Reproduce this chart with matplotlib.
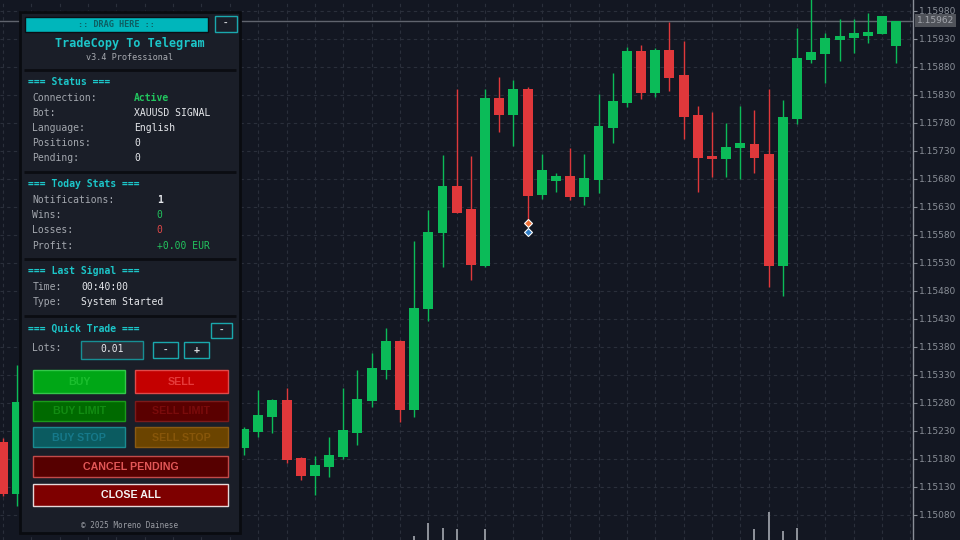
import numpy as np
import matplotlib
matplotlib.use("Agg")
import matplotlib.pyplot as plt
from matplotlib.patches import Rectangle
import matplotlib.transforms as mtransforms

# ---------------- data ----------------
idx = [-17, -16] + list(range(0, 47))
opens = [1.15209, 1.15117,
         1.15200, 1.15228, 1.15255, 1.15284, 1.15181, 1.15149, 1.15165, 1.15184, 1.15226, 1.15284,
         1.15338, 1.15390, 1.15267, 1.15447, 1.15583, 1.15666, 1.15625, 1.15525, 1.15824, 1.15794,
         1.15840, 1.15651, 1.15677, 1.15685, 1.15648, 1.15678, 1.15771, 1.15816, 1.15907, 1.15834,
         1.15909, 1.15864, 1.15794, 1.15721, 1.15715, 1.15735, 1.15742, 1.15724, 1.15524, 1.15787,
         1.15893, 1.15903, 1.15928, 1.15931, 1.15936, 1.15938, 1.15917]
closes = [1.15117, 1.15280,
          1.15233, 1.15258, 1.15284, 1.15178, 1.15149, 1.15169, 1.15187, 1.15230, 1.15287, 1.15341,
          1.15390, 1.15268, 1.15449, 1.15585, 1.15667, 1.15620, 1.15526, 1.15824, 1.15794, 1.15840,
          1.15650, 1.15696, 1.15685, 1.15647, 1.15680, 1.15774, 1.15819, 1.15907, 1.15834, 1.15909,
          1.15861, 1.15791, 1.15717, 1.15715, 1.15737, 1.15743, 1.15718, 1.15524, 1.15790, 1.15896,
          1.15906, 1.15931, 1.15935, 1.15939, 1.15942, 1.15971, 1.15962]
highs = [1.15217, 1.15347,
         1.15237, 1.15303, 1.15287, 1.15306, 1.15183, 1.15184, 1.15219, 1.15306, 1.15338, 1.15368,
         1.15413, 1.15392, 1.15568, 1.15624, 1.15722, 1.15840, 1.15721, 1.15840, 1.15862, 1.15856,
         1.15843, 1.15724, 1.15691, 1.15734, 1.15724, 1.15831, 1.15869, 1.15916, 1.15919, 1.15913,
         1.15960, 1.15925, 1.15810, 1.15799, 1.15780, 1.15810, 1.15803, 1.15841, 1.15821, 1.15949,
         1.16010, 1.15941, 1.15966, 1.15966, 1.15976, 1.15971, 1.15962]
lows = [1.15113, 1.15096,
        1.15187, 1.15219, 1.15226, 1.15172, 1.15142, 1.15115, 1.15148, 1.15179, 1.15205, 1.15273,
        1.15322, 1.15246, 1.15255, 1.15425, 1.15522, 1.15619, 1.15499, 1.15523, 1.15764, 1.15739,
        1.15603, 1.15643, 1.15657, 1.15642, 1.15633, 1.15655, 1.15744, 1.15808, 1.15822, 1.15825,
        1.15837, 1.15750, 1.15657, 1.15683, 1.15683, 1.15679, 1.15690, 1.15486, 1.15471, 1.15778,
        1.15887, 1.15850, 1.15891, 1.15905, 1.15923, 1.15938, 1.15886]

vol_idx = [12, 13, 14, 15, 17, 36, 37, 38, 39]
vol_val = [40, 173, 123, 110, 110, 110, 283, 90, 117]

last_price = 1.15962
trade_idx = 20
trade_sell = 1.15600
trade_buy = 1.15584

yticks = [round(1.15080 + 0.0005 * i, 5) for i in range(19)]

status_rows = [("Connection:", "Active"), ("Bot:", "XAUUSD SIGNAL"), ("Language:", "English"),
               ("Positions:", "0"), ("Pending:", "0")]
stats_rows = [("Notifications:", "1"), ("Wins:", "0"), ("Losses:", "0"), ("Profit:", "+0.00 EUR")]
signal_rows = [("Time:", "00:40:00"), ("Type:", "System Started")]

# ---------------- style ----------------
BG = "#131722"
GREEN = "#0bbb58"
RED = "#e0383b"
GRID = "#2a2f3b"
AXC = "#8a8f98"

fig = plt.figure(figsize=(9.6, 5.4), dpi=100, facecolor=BG)
ax = fig.add_axes([0, 0, 913 / 960, 1], facecolor=BG)

x = np.array(idx, dtype=float)
o = np.array(opens); c = np.array(closes); h = np.array(highs); l = np.array(lows)
up = c >= o
cols = np.where(up, GREEN, RED)

ax.vlines(x, l, h, colors=cols, lw=1.0, zorder=3)
ax.bar(x, np.abs(c - o) + 0.000008, bottom=np.minimum(o, c) - 0.000004, width=0.70,
       color=cols, edgecolor=cols, lw=0, zorder=4)

ax.set_xlim(-17.21, 47.18)
ax.set_ylim(1.150348, 1.159991)

ax.set_xticks(np.arange(-17, 48, 2))
ax.tick_params(axis="x", length=0, labelbottom=False)
ax.set_yticks(yticks)
ax.set_yticklabels([f"{v:.5f}" for v in yticks])
ax.yaxis.tick_right()
ax.tick_params(axis="y", direction="out", length=3, width=0.8, pad=1.5,
               labelsize=6.5, colors=AXC, labelcolor=AXC)
ax.grid(True, color=GRID, lw=0.8, ls=(0, (3, 3)), zorder=0)
for s in ["left", "top", "bottom"]:
    ax.spines[s].set_visible(False)
ax.spines["right"].set_color(AXC)
ax.spines["right"].set_linewidth(1.0)

# last price line & label
ax.axhline(last_price, color="#60646e", lw=1.0, zorder=2)
tr = mtransforms.blended_transform_factory(ax.transAxes, ax.transData)
ax.text(1.004, last_price, f"{last_price:.5f}", transform=tr, ha="left", va="center",
        fontsize=6.5, color="#a3a6ad", clip_on=False,
        bbox=dict(boxstyle="square,pad=0.2", fc="#50535a", ec="none"))

# trade markers
ax.plot([trade_idx], [trade_sell], marker="D", ms=4.5, mfc="#f07035", mec="white", mew=0.8, zorder=6)
ax.plot([trade_idx], [trade_buy], marker="D", ms=4.5, mfc="#2f7ec7", mec="white", mew=0.8, zorder=6)

# volumes
axv = fig.add_axes([0, 0, 913 / 960, 1], sharex=ax, facecolor="none")
axv.bar(vol_idx, vol_val, width=0.14, color="#8c9098", zorder=2)
axv.set_ylim(0, 5400)
axv.axis("off")

# ---------------- panel overlay ----------------
p = fig.add_axes([0, 0, 1, 1], facecolor="none", zorder=10)
p.set_xlim(0, 960); p.set_ylim(540, 0); p.axis("off")

MONO = "DejaVu Sans Mono"
CYAN = "#1cc6c9"
LBL = "#a3a7ae"
VAL = "#e6e8ec"

p.add_patch(Rectangle((20, 11.5), 220, 521.5, fc="#1a1e28", ec="#090b10", lw=2))

# header
p.add_patch(Rectangle((25, 16.7), 183, 15, fc="#00b6bb", ec="#0b0e14", lw=1))
p.text(116.5, 24.2, ":: DRAG HERE ::", ha="center", va="center", fontsize=6.1,
       family=MONO, weight="bold", color="#0d5f63")
p.add_patch(Rectangle((215, 15.7), 21.5, 16.6, fc="#1a1e28", ec="#1aa8ad", lw=1))
p.text(225.8, 23.5, "-", ha="center", va="center", fontsize=6.5, family=MONO, weight="bold", color="#d8dadd")

p.text(130, 43.3, "TradeCopy To Telegram", ha="center", va="center", fontsize=8.5,
       family=MONO, weight="bold", color=CYAN)
p.text(130, 57.3, "v3.4 Professional", ha="center", va="center", fontsize=6.1,
       family=MONO, color="#a8abb1")


def sep(y):
    p.plot([24, 236], [y, y], color="#0b0d12", lw=2, solid_capstyle="butt")


def header(y, txt):
    p.text(28.3, y, txt, ha="left", va="center", fontsize=7, family=MONO, weight="bold", color=CYAN)


sep(69.5)
header(81.7, "=== Status ===")
status_colors = ["#22c55e", VAL, VAL, VAL, VAL]
for i, (lab, val) in enumerate(status_rows):
    yy = 98.3 + 15 * i
    p.text(32.3, yy, lab, ha="left", va="center", fontsize=7, family=MONO, color=LBL)
    p.text(134.3, yy, val, ha="left", va="center", fontsize=7, family=MONO,
           color=status_colors[i], weight="bold" if i == 0 else "normal")

sep(171.7)
header(184.3, "=== Today Stats ===")
stats_colors = [VAL, "#22c55e", "#e04848", "#22c55e"]
for i, (lab, val) in enumerate(stats_rows):
    yy = 200 + 15.2 * i
    p.text(32.3, yy, lab, ha="left", va="center", fontsize=7, family=MONO, color=LBL)
    p.text(156.7, yy, val, ha="left", va="center", fontsize=7, family=MONO,
           color=stats_colors[i], weight="bold" if i == 0 else "normal")

sep(258.5)
header(271.3, "=== Last Signal ===")
for i, (lab, val) in enumerate(signal_rows):
    yy = 287 + 15.3 * i
    p.text(32.3, yy, lab, ha="left", va="center", fontsize=7, family=MONO, color=LBL)
    p.text(81, yy, val, ha="left", va="center", fontsize=7, family=MONO, color=VAL)

sep(316.2)
header(329, "=== Quick Trade ===")
p.add_patch(Rectangle((210.7, 323.3), 21, 15, fc="#1a1e28", ec="#1aa8ad", lw=1))
p.text(221.2, 330.5, "-", ha="center", va="center", fontsize=6.5, family=MONO, weight="bold", color="#d8dadd")

p.text(32.3, 348.3, "Lots:", ha="left", va="center", fontsize=7, family=MONO, color=LBL)
p.add_patch(Rectangle((80.7, 341), 62.6, 18, fc="#2a2e37", ec="#178f94", lw=1))
p.text(112, 349.5, "0.01", ha="center", va="center", fontsize=7, family=MONO, color=VAL)
p.add_patch(Rectangle((153.3, 342.3), 25, 16, fc="#1a1e28", ec="#1aa8ad", lw=1))
p.text(165.8, 350, "-", ha="center", va="center", fontsize=6.5, family=MONO, weight="bold", color="#d8dadd")
p.add_patch(Rectangle((184.3, 342.3), 25, 16, fc="#1a1e28", ec="#1aa8ad", lw=1))
p.text(196.8, 350, "+", ha="center", va="center", fontsize=7, family=MONO, weight="bold", color="#d8dadd")

BTN = "Liberation Sans"


def button(x0, y0, w, hh, fc, ec, tc, txt, fs=7.7):
    p.add_patch(Rectangle((x0, y0), w, hh, fc=fc, ec=ec, lw=1))
    p.text(x0 + w / 2, y0 + hh / 2 + 0.3, txt, ha="center", va="center", fontsize=fs,
           family=BTN, weight="bold", color=tc)


button(33.3, 370, 91.7, 23.3, "#00a716", "#33c84a", "#1bbf2e", "BUY")
button(135, 370, 92.7, 23.3, "#c40000", "#e04a4a", "#e53a3a", "SELL")
button(33.3, 400.7, 91.7, 20, "#006a00", "#1a9a1a", "#128c12", "BUY LIMIT")
button(135, 400.7, 92.7, 20, "#5a0000", "#7d1a1a", "#7a0b0b", "SELL LIMIT")
button(33.3, 427.3, 91.7, 20, "#0b5b60", "#1a8a90", "#16798a", "BUY STOP")
button(135, 427.3, 92.7, 20, "#6b4400", "#8a5a12", "#87560a", "SELL STOP")
button(33.3, 456, 194.4, 21.3, "#560000", "#c24a4a", "#e25757", "CANCEL PENDING")
button(33.3, 484.3, 194.4, 21.7, "#7e0000", "#e6d8d8", "#f4f4f4", "CLOSE ALL")

p.text(130, 525, "\u00a9 2025 Moreno Dainese", ha="center", va="center", fontsize=5.5,
       family=MONO, color="#9a9da4")

fig.savefig("out.png", dpi=100, facecolor=BG)
